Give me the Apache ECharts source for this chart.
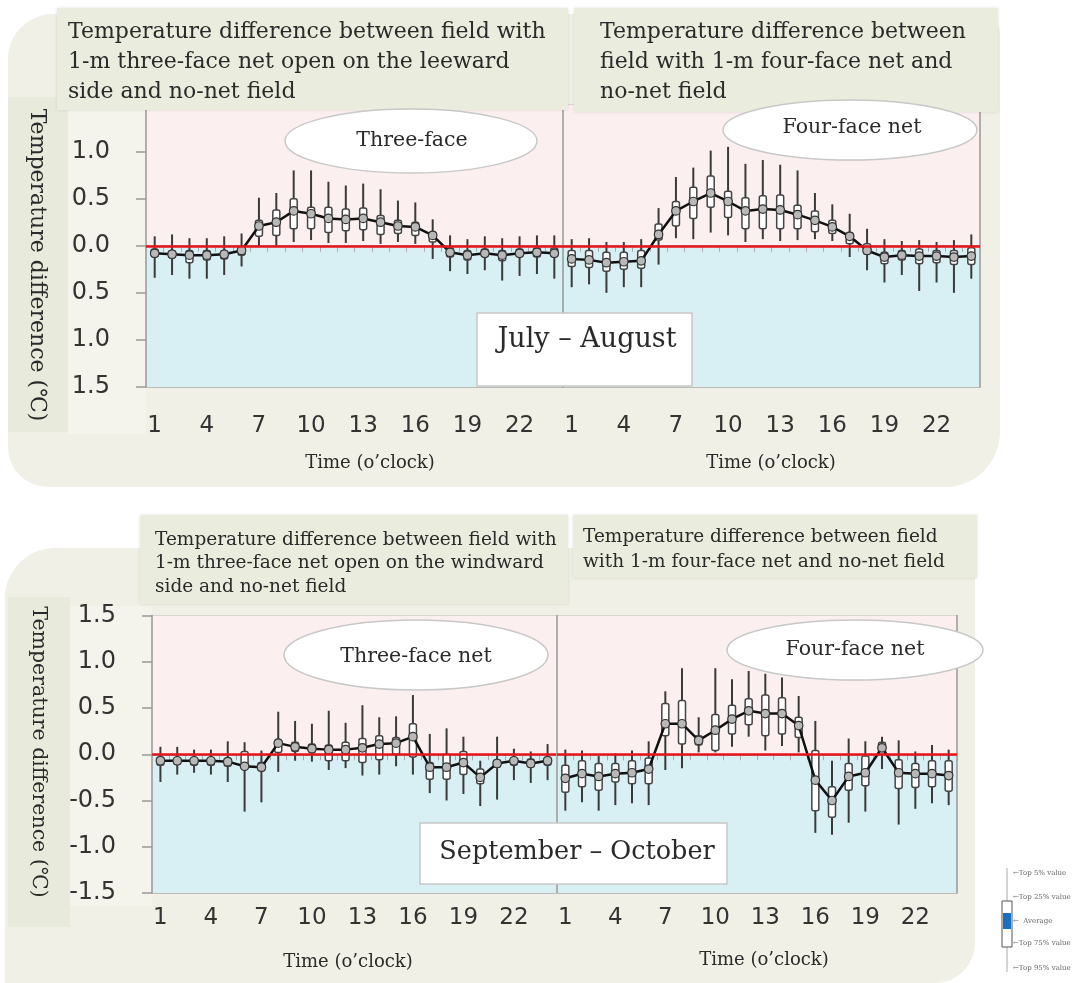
<!DOCTYPE html>
<html>
<head>
<meta charset="utf-8">
<script src="https://cdn.jsdelivr.net/npm/echarts@6/dist/echarts.min.js"></script>
<style>html,body{margin:0;padding:0;background:#fff;}#c{width:1080px;height:983px;}</style>
</head>
<body>
<div id="c"></div>
<script>
// ---- categories ----
const hours = ['1','2','3','4','5','6','7','8','9','10','11','12','13','14','15','16','17','18','19','20','21','22','23','24'];

// ---- July-August, three-face net (leeward open) ----
const jaThreeMean = [-0.08,-0.09,-0.10,-0.10,-0.09,-0.05,0.21,0.25,0.37,0.34,0.29,0.28,0.29,0.25,0.21,0.20,0.11,-0.07,-0.10,-0.08,-0.10,-0.08,-0.07,-0.08];
const jaThreeP95  = [0.10,0.12,0.08,0.08,0.10,0.13,0.51,0.56,0.80,0.80,0.68,0.64,0.66,0.60,0.48,0.46,0.28,0.11,0.07,0.10,0.08,0.10,0.11,0.11];
const jaThreeQ75  = [-0.035,-0.05,-0.05,-0.05,-0.05,-0.01,0.27,0.38,0.50,0.41,0.41,0.39,0.40,0.32,0.27,0.25,0.15,-0.025,-0.05,-0.035,-0.05,-0.035,-0.025,-0.025];
const jaThreeQ25  = [-0.12,-0.13,-0.18,-0.15,-0.14,-0.10,0.10,0.11,0.18,0.18,0.14,0.16,0.17,0.12,0.13,0.11,0.04,-0.12,-0.15,-0.12,-0.16,-0.12,-0.12,-0.12];
const jaThreeP5   = [-0.34,-0.31,-0.35,-0.35,-0.31,-0.22,0.00,0.00,0.04,0.06,0.03,0.03,0.05,0.02,0.04,0.02,-0.14,-0.27,-0.30,-0.26,-0.37,-0.32,-0.30,-0.35];

// ---- July-August, four-face net ----
const jaFourMean = [-0.14,-0.15,-0.18,-0.17,-0.16,0.12,0.37,0.47,0.56,0.47,0.37,0.39,0.38,0.33,0.27,0.20,0.10,-0.05,-0.12,-0.10,-0.11,-0.11,-0.12,-0.11];
const jaFourP95  = [0.07,0.08,0.04,0.04,0.07,0.40,0.73,0.83,1.01,1.05,0.87,0.91,0.86,0.80,0.56,0.44,0.34,0.18,0.07,0.05,0.06,0.04,0.06,0.12];
const jaFourQ75  = [-0.05,-0.05,-0.07,-0.07,-0.05,0.23,0.47,0.62,0.74,0.58,0.51,0.53,0.54,0.43,0.37,0.27,0.14,0.02,-0.07,-0.05,-0.035,-0.05,-0.05,-0.02];
const jaFourQ25  = [-0.22,-0.23,-0.27,-0.25,-0.24,0.06,0.21,0.29,0.41,0.30,0.18,0.18,0.18,0.18,0.15,0.13,0.02,-0.09,-0.19,-0.15,-0.19,-0.18,-0.20,-0.20];
const jaFourP5   = [-0.44,-0.41,-0.50,-0.44,-0.44,-0.20,0.08,0.07,0.14,0.11,0.04,0.07,0.05,0.06,0.07,0.05,-0.12,-0.26,-0.39,-0.31,-0.48,-0.39,-0.50,-0.35];

// ---- September-October, three-face net (windward open) ----
const soThreeMean = [-0.07,-0.07,-0.07,-0.07,-0.08,-0.13,-0.14,0.12,0.08,0.06,0.05,0.05,0.07,0.11,0.12,0.19,-0.14,-0.14,-0.09,-0.25,-0.10,-0.07,-0.10,-0.07];
const soThreeP95  = [0.08,0.08,0.05,0.05,0.14,0.13,0.04,0.46,0.36,0.33,0.47,0.34,0.53,0.40,0.41,0.64,0.22,0.28,0.19,-0.07,0.19,0.06,0.03,0.11];
const soThreeQ75  = [-0.03,-0.04,-0.04,-0.04,-0.04,0.03,-0.09,0.16,0.13,0.11,0.10,0.13,0.17,0.20,0.18,0.33,-0.09,0.00,0.03,-0.16,-0.06,-0.04,-0.05,-0.03];
const soThreeQ25  = [-0.12,-0.11,-0.12,-0.12,-0.13,-0.16,-0.18,0.02,0.03,0.02,-0.07,-0.07,-0.09,-0.06,0.00,-0.03,-0.27,-0.27,-0.22,-0.32,-0.14,-0.12,-0.14,-0.12];
const soThreeP5   = [-0.30,-0.22,-0.20,-0.22,-0.30,-0.62,-0.52,-0.19,-0.07,-0.08,-0.17,-0.15,-0.23,-0.22,-0.13,-0.22,-0.42,-0.50,-0.43,-0.56,-0.49,-0.28,-0.31,-0.28];

// ---- September-October, four-face net ----
const soFourMean = [-0.26,-0.21,-0.24,-0.21,-0.20,-0.16,0.33,0.33,0.15,0.26,0.38,0.47,0.44,0.44,0.31,-0.28,-0.50,-0.24,-0.20,0.07,-0.20,-0.21,-0.21,-0.23];
const soFourP95  = [0.05,0.04,-0.02,0.01,0.04,0.14,0.68,0.93,0.40,0.93,0.81,0.90,0.87,0.83,0.63,0.36,-0.07,0.17,0.14,0.19,0.15,0.03,0.10,0.05];
const soFourQ75  = [-0.12,-0.07,-0.10,-0.10,-0.07,-0.04,0.55,0.58,0.20,0.43,0.53,0.60,0.64,0.61,0.40,0.04,-0.35,-0.10,-0.02,0.13,-0.06,-0.10,-0.07,-0.07];
const soFourQ25  = [-0.41,-0.35,-0.39,-0.30,-0.32,-0.32,0.20,0.11,0.10,0.04,0.22,0.32,0.20,0.22,0.18,-0.61,-0.68,-0.39,-0.34,0.00,-0.37,-0.36,-0.35,-0.40];
const soFourP5   = [-0.61,-0.52,-0.61,-0.55,-0.53,-0.55,-0.17,-0.15,0.02,0.02,0.08,0.19,0.04,0.09,0.02,-0.85,-0.87,-0.74,-0.62,-0.16,-0.76,-0.59,-0.53,-0.55];

// ---- axis ticks ----
const yMin = -1.5, yMax = 1.5, yStep = 0.5;

// ---- texts ----
const yName = 'Temperature difference (℃)';
const xName = 'Time (o’clock)';

const panels = [
  {mean: jaThreeMean, p95: jaThreeP95, q75: jaThreeQ75, q25: jaThreeQ25, p5: jaThreeP5},
  {mean: jaFourMean,  p95: jaFourP95,  q75: jaFourQ75,  q25: jaFourQ25,  p5: jaFourP5},
  {mean: soThreeMean, p95: soThreeP95, q75: soThreeQ75, q25: soThreeQ25, p5: soThreeP5},
  {mean: soFourMean,  p95: soFourP95,  q75: soFourQ75,  q25: soFourQ25,  p5: soFourP5}
];

const gridBoxes = [
  {left: 146, top: 104.5, width: 417, height: 282.5},
  {left: 563, top: 104.5, width: 417, height: 282.5},
  {left: 152, top: 615.5, width: 404, height: 277.5},
  {left: 557, top: 615.5, width: 400, height: 277.5}
];

const chart = echarts.init(document.getElementById('c'), null, {renderer: 'canvas'});

const SERIF = 'DejaVu Serif';
const SANS = 'DejaVu Sans';

function renderBox(params, api) {
  const x = api.value(0);
  const lo = api.coord([x, api.value(1)]);
  const q1 = api.coord([x, api.value(2)]);
  const q3 = api.coord([x, api.value(3)]);
  const hi = api.coord([x, api.value(4)]);
  const bw = 7;
  return {
    type: 'group',
    children: [
      {type: 'line', shape: {x1: lo[0], y1: lo[1], x2: hi[0], y2: hi[1]}, style: {stroke: '#3a3a3a', lineWidth: 2}},
      {type: 'rect', shape: {x: q3[0] - bw / 2, y: q3[1], width: bw, height: Math.max(q1[1] - q3[1], 2), r: 2},
       style: {fill: '#ffffff', stroke: '#444', lineWidth: 1.5}}
    ]
  };
}

const xAxes = [], yAxes = [], series = [];
gridBoxes.forEach((g, i) => {
  const isLeft = (i % 2 === 0);
  const isTop = i < 2;
  xAxes.push({
    gridIndex: i, type: 'category', data: hours, boundaryGap: true, z: 1,
    axisLine: {lineStyle: {color: '#999', width: 1.5}},
    axisTick: {show: true, interval: 0, length: 6, lineStyle: {color: '#aaa', width: 1}},
    axisLabel: {interval: 2, fontSize: 23, fontFamily: SANS, color: '#333', margin: isTop ? 28 : 14},
    splitLine: {show: false}
  });
  yAxes.push({
    gridIndex: i, type: 'value', min: yMin, max: yMax, interval: yStep, z: 1,
    axisLine: {show: true, lineStyle: {color: '#999', width: 1.5}},
    axisTick: {show: isLeft, length: 10, lineStyle: {color: '#999', width: 1.5}},
    axisLabel: {
      show: isLeft, fontSize: 24, fontFamily: SANS, color: '#333', margin: 36,
      formatter: function (v) {
        if (isTop) {
          if (Math.abs(v - yMax) < 1e-6) return '';
          return Math.abs(v).toFixed(1);
        }
        return v.toFixed(1);
      }
    },
    splitLine: {show: true, lineStyle: {color: '#aaa', width: 1.5}}
  });
});
// right border axes for the right-hand panels
[1, 3].forEach(gi => {
  yAxes.push({
    gridIndex: gi, type: 'value', position: 'right', min: yMin, max: yMax, interval: yStep, z: 1,
    axisLine: {show: true, lineStyle: {color: '#999', width: 1.5}},
    axisTick: {show: false}, axisLabel: {show: false}, splitLine: {show: false}
  });
});

panels.forEach((p, i) => {
  // background bands
  series.push({
    type: 'line', xAxisIndex: i, yAxisIndex: i, data: p.mean, z: 0, silent: true,
    symbol: 'none', lineStyle: {opacity: 0},
    markArea: {
      silent: true,
      data: [
        [{yAxis: 0, itemStyle: {color: '#fcefef'}}, {yAxis: yMax}],
        [{yAxis: yMin, itemStyle: {color: '#d8eff3'}}, {yAxis: 0}]
      ]
    }
  });
  // whiskers and boxes
  series.push({
    type: 'custom', xAxisIndex: i, yAxisIndex: i, z: 3, silent: true,
    renderItem: renderBox,
    encode: {x: 0, y: [1, 2, 3, 4]},
    data: p.mean.map((m, k) => [k, p.p5[k], p.q25[k], p.q75[k], p.p95[k]])
  });
  // zero line
  series.push({
    type: 'line', xAxisIndex: i, yAxisIndex: i, data: p.mean, z: 3.5, silent: true,
    symbol: 'none', lineStyle: {opacity: 0},
    markLine: {
      silent: true, symbol: ['none', 'none'], label: {show: false},
      lineStyle: {color: '#e8141b', width: 2.5, type: 'solid'},
      data: [{yAxis: 0}]
    }
  });
  // averages
  series.push({
    type: 'line', xAxisIndex: i, yAxisIndex: i, data: p.mean, z: 4, silent: true,
    symbol: 'circle', symbolSize: 8.5, showSymbol: true,
    itemStyle: {color: '#b8b8b8', borderColor: '#333', borderWidth: 1.2},
    lineStyle: {color: '#111', width: 2.5}
  });
});

function txt(x, y, text, size, opts) {
  return Object.assign({
    type: 'text', x: x, y: y, z: 120,
    style: Object.assign({text: text, font: size + 'px "' + SERIF + '"', fill: '#2a2a2a', textAlign: 'left', textVerticalAlign: 'top'}, (opts && opts.style) || {})
  }, (opts && opts.el) || {});
}

const graphics = [
  // top panel background
  {type: 'rect', z: -10, shape: {x: 8, y: 14, width: 992, height: 473, r: [45, 20, 55, 40]}, style: {fill: '#f1f0e6'}},
  {type: 'rect', z: -9, shape: {x: 8, y: 97, width: 60, height: 335}, style: {fill: '#e8ebdc'}},
  {type: 'rect', z: -9, shape: {x: 68, y: 104, width: 78, height: 330}, style: {fill: '#f4f3ec'}},
  // bottom panel background
  {type: 'rect', z: -10, shape: {x: 5, y: 548, width: 970, height: 435, r: [50, 0, 40, 0]}, style: {fill: '#f1f0e6'}},
  {type: 'rect', z: -9, shape: {x: 8, y: 597, width: 62, height: 330}, style: {fill: '#e8ebdc'}},
  {type: 'rect', z: -9, shape: {x: 70, y: 606, width: 82, height: 300}, style: {fill: '#f4f3ec'}},
  // title boxes
  {type: 'rect', z: 50, shape: {x: 57, y: 8, width: 511, height: 102}, style: {fill: '#eaedde', shadowBlur: 3, shadowColor: 'rgba(0,0,0,0.12)'}},
  {type: 'rect', z: 50, shape: {x: 574, y: 8, width: 424, height: 104}, style: {fill: '#eaedde', shadowBlur: 3, shadowColor: 'rgba(0,0,0,0.12)'}},
  {type: 'rect', z: 50, shape: {x: 140, y: 515, width: 428, height: 89}, style: {fill: '#eaedde', shadowBlur: 3, shadowColor: 'rgba(0,0,0,0.12)'}},
  {type: 'rect', z: 50, shape: {x: 573, y: 515, width: 404, height: 63}, style: {fill: '#eaedde', shadowBlur: 3, shadowColor: 'rgba(0,0,0,0.12)'}},
  // title texts
  txt(68, 17, 'Temperature difference between field with\n1-m three-face net open on the leeward\nside and no-net field', 22, {style: {lineHeight: 30}}),
  txt(600, 17, 'Temperature difference between\nfield with 1-m four-face net and\nno-net field', 22, {style: {lineHeight: 30}}),
  txt(155, 528, 'Temperature difference between field with\n1-m three-face net open on the windward\nside and no-net field', 18.5, {style: {lineHeight: 23.5}}),
  txt(583, 525, 'Temperature difference between field\nwith 1-m four-face net and no-net field', 18.5, {style: {lineHeight: 25}}),
  // ellipses
  {type: 'ellipse', z: 100, shape: {cx: 411, cy: 141, rx: 126, ry: 32}, style: {fill: '#fff', stroke: '#c8c8c8', lineWidth: 1.5}},
  {type: 'ellipse', z: 100, shape: {cx: 850, cy: 130, rx: 127, ry: 30}, style: {fill: '#fff', stroke: '#c8c8c8', lineWidth: 1.5}},
  {type: 'ellipse', z: 100, shape: {cx: 416, cy: 655, rx: 132, ry: 35}, style: {fill: '#fff', stroke: '#c8c8c8', lineWidth: 1.5}},
  {type: 'ellipse', z: 100, shape: {cx: 855, cy: 650, rx: 128, ry: 30}, style: {fill: '#fff', stroke: '#c8c8c8', lineWidth: 1.5}},
  txt(412, 141, 'Three-face', 20.5, {style: {textAlign: 'center', textVerticalAlign: 'middle'}}),
  txt(852, 128, 'Four-face net', 20.5, {style: {textAlign: 'center', textVerticalAlign: 'middle'}}),
  txt(416, 657, 'Three-face net', 20.5, {style: {textAlign: 'center', textVerticalAlign: 'middle'}}),
  txt(855, 650, 'Four-face net', 20.5, {style: {textAlign: 'center', textVerticalAlign: 'middle'}}),
  // period boxes
  {type: 'rect', z: 100, shape: {x: 477, y: 313, width: 215, height: 73}, style: {fill: '#fff', stroke: '#c8c8c8', lineWidth: 1.5}},
  txt(587, 340, 'July – August', 27, {style: {textAlign: 'center', textVerticalAlign: 'middle'}}),
  {type: 'rect', z: 100, shape: {x: 420, y: 823, width: 307, height: 61}, style: {fill: '#fff', stroke: '#c8c8c8', lineWidth: 1.5}},
  txt(577, 852, 'September – October', 25.5, {style: {textAlign: 'center', textVerticalAlign: 'middle'}}),
  // axis names
  txt(37, 265, yName, 22, {style: {textAlign: 'center', textVerticalAlign: 'middle'}, el: {rotation: -Math.PI / 2}}),
  txt(38, 752, yName, 20.5, {style: {textAlign: 'center', textVerticalAlign: 'middle'}, el: {rotation: -Math.PI / 2}}),
  txt(370, 463, xName, 18, {style: {textAlign: 'center', textVerticalAlign: 'middle'}}),
  txt(771, 463, xName, 18, {style: {textAlign: 'center', textVerticalAlign: 'middle'}}),
  txt(348, 962, xName, 18, {style: {textAlign: 'center', textVerticalAlign: 'middle'}}),
  txt(764, 960, xName, 18, {style: {textAlign: 'center', textVerticalAlign: 'middle'}}),
  // legend schematic
  {type: 'line', z: 100, shape: {x1: 1007, y1: 868, x2: 1007, y2: 972}, style: {stroke: '#aaa', lineWidth: 1}},
  {type: 'rect', z: 101, shape: {x: 1002, y: 901, width: 10, height: 46}, style: {fill: '#fff', stroke: '#555', lineWidth: 1}},
  {type: 'rect', z: 102, shape: {x: 1003, y: 913, width: 8, height: 16}, style: {fill: '#1a6fc0'}},
  txt(1013, 873, '←Top 5% value', 7, {style: {textVerticalAlign: 'middle', fill: '#666'}}),
  txt(1013, 897, '←Top 25% value', 7, {style: {textVerticalAlign: 'middle', fill: '#666'}}),
  txt(1013, 921, '←  Average', 7, {style: {textVerticalAlign: 'middle', fill: '#666'}}),
  txt(1013, 943, '←Top 75% value', 7, {style: {textVerticalAlign: 'middle', fill: '#666'}}),
  txt(1013, 968, '←Top 95% value', 7, {style: {textVerticalAlign: 'middle', fill: '#666'}})
];

chart.setOption({
  animation: false,
  backgroundColor: '#ffffff',
  grid: gridBoxes.map(g => Object.assign({containLabel: false}, g)),
  xAxis: xAxes,
  yAxis: yAxes,
  series: series,
  graphic: {elements: graphics}
});
</script>
</body>
</html>
